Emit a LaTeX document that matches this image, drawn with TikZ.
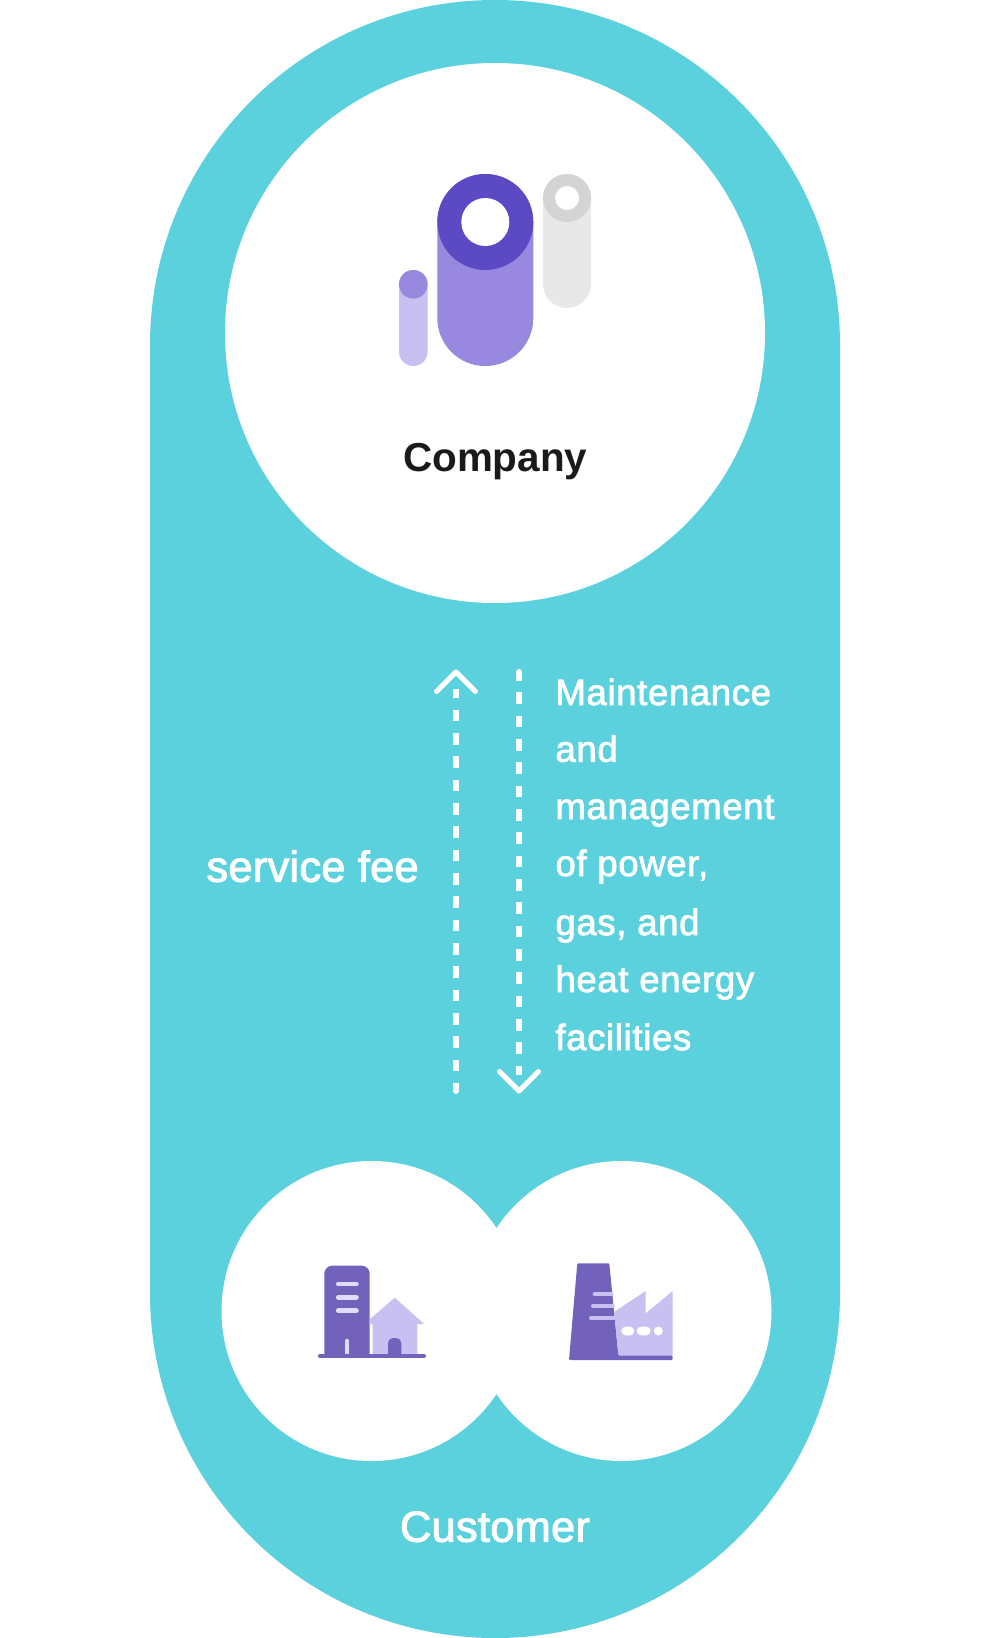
\documentclass[tikz,border=0pt]{standalone}
\usepackage{fontspec}
\setmainfont{Liberation Sans}
\newfontfamily\medfont[FakeBold=2.2,LetterSpace=1.8]{Liberation Sans}
\newfontfamily\medbig[FakeBold=2.2,LetterSpace=0.6]{Liberation Sans}
\definecolor{teal1}{HTML}{5BD1DE}
\definecolor{pdark}{HTML}{5B4AC3}
\definecolor{pmid}{HTML}{9888E0}
\definecolor{plight}{HTML}{C9C0F2}
\definecolor{gdark}{HTML}{D4D4D4}
\definecolor{glight}{HTML}{E8E8E8}
\definecolor{ink}{HTML}{1A1A1A}
\definecolor{icon}{HTML}{7262BC}
\definecolor{iconbar}{HTML}{E0DBF6}
\tikzset{
  lab/.style={anchor=base west,inner sep=0pt,outer sep=0pt,text=white,font=\medfont\fontsize{36.5}{38}\selectfont},
  bigl/.style={anchor=base west,inner sep=0pt,outer sep=0pt,text=white,font=\medbig\fontsize{43.4}{44}\selectfont},
  dashline/.style={draw=white,line width=6pt,dash pattern=on 11.7pt off 11.63pt},
  chev/.style={draw=white,line width=5pt,line cap=round,line join=round},
  bar/.style={draw=#1,line width=4.5pt,line cap=round},
}
\begin{document}
\begin{tikzpicture}[x=1pt,y=-1pt]
\useasboundingbox (0,0) rectangle (990,1638);
\fill[white] (0,0) rectangle (990,1638);
% pill
\fill[teal1,rounded corners=345pt] (150,0) rectangle (840,1638);
\node[circle,fill=white,minimum size=540pt,inner sep=0pt,outer sep=0pt] (comp) at (495,333) {};
\node[circle,fill=white,minimum size=300pt,inner sep=0pt,outer sep=0pt] (custA) at (371.5,1311) {};
\node[circle,fill=white,minimum size=300pt,inner sep=0pt,outer sep=0pt] (custB) at (621.5,1311) {};
% logo
\fill[plight,rounded corners=14.3pt] (399,270) rectangle (427.6,366);
\fill[pmid] (413.3,284.3) circle[radius=14.3];
\fill[glight,rounded corners=23.9pt] (543,174) rectangle (591,308);
\fill[gdark] (567,198) circle[radius=24];
\fill[white] (567,198) circle[radius=12];
\fill[pmid,rounded corners=47.9pt] (437.3,174) rectangle (533.3,366);
\fill[pdark] (485.3,222) circle[radius=48];
\fill[white] (485.3,222) circle[radius=24];
\node[anchor=base west,inner sep=0pt,text=ink,font=\bfseries\fontsize{40.4}{41}\selectfont] (ctitle) at (403,471.7) {Company};
% connectors
\coordinate (upS) at (456,1094);
\coordinate (upE) at (456,689.3);
\coordinate (upT) at (456,672);
\coordinate (dnS) at (519,669);
\coordinate (dnE) at (519,1075);
\coordinate (dnT) at (519,1091);
\draw[dashline,dash phase=3.7pt] ([yshift=3pt]upS) -- (upE);
\draw[draw=white,line width=6pt,line cap=round] ([yshift=3pt]upS) -- ([yshift=6pt]upS);
\draw[chev] (436.5,691.5) -- (upT) -- (475.5,691.5);
\draw[dashline,dash phase=3pt] ([yshift=-3pt]dnS) -- (dnE);
\draw[draw=white,line width=6pt,line cap=round] ([yshift=-3pt]dnS) -- ([yshift=-6pt]dnS);
\draw[chev] (499.5,1071.5) -- (dnT) -- (538.5,1071.5);
% labels
\node[bigl] (fee) at (206.5,881.7) {service fee};
\node[lab] (t1) at (555.5,705) {Maintenance};
\node[lab] (t2) at (555.5,761.7) {and};
\node[lab] (t3) at (555.5,819) {management};
\node[lab] (t4) at (555.5,876) {of power,};
\node[lab] (t5) at (555.5,935) {gas, and};
\node[lab] (t6) at (555.5,992) {heat energy};
\node[lab] (t7) at (555.5,1050) {facilities};
\node[bigl] (cust) at (400,1541.7) {Customer};
% building icon
\fill[icon] (324.3,1354) [rounded corners=8pt] -- (324.3,1265.7) -- (369.7,1265.7) [sharp corners] -- (369.7,1354) -- cycle;
\fill[plight] (369.7,1319.3) -- (394.7,1297.7) -- (424.3,1324) -- (417.3,1324) -- (417.3,1354) -- (372.7,1354) -- (372.7,1324) -- (369.7,1324) -- cycle;
\fill[icon] (388,1354) [rounded corners=5pt] -- (388,1338) -- (401.3,1338) [sharp corners] -- (401.3,1354) -- cycle;
\draw[bar=iconbar] (338.2,1284) -- (356.5,1284);
\draw[bar=iconbar] (338.2,1297.3) -- (356.5,1297.3);
\draw[bar=iconbar] (338.2,1310.7) -- (356.5,1310.7);
\draw[draw=iconbar,line width=4.5pt,line cap=round] (347,1341) -- (347,1354);
\draw[bar=icon] (320.2,1356) -- (423.8,1356);
% factory icon
\fill[plight] (614.3,1311.7) -- (645.7,1291) -- (645.7,1313.3) -- (672.7,1291) -- (672.7,1356) -- (618.3,1356) -- cycle;
\fill[icon,rounded corners=1pt] (577.3,1263.3) -- (609.3,1263.3) -- (618.3,1355.7) -- (672.7,1355.7) -- (672.7,1360) -- (569,1360) -- cycle;
\draw[draw=plight,line width=4pt,line cap=round] (594.7,1294.3) -- (611.5,1294.3);
\draw[draw=plight,line width=4pt,line cap=round] (593,1306.3) -- (612.7,1306.3);
\draw[draw=plight,line width=4pt,line cap=round] (591,1318) -- (614,1318);
\fill[white,rounded corners=4.3pt] (621.3,1326.7) rectangle (634.3,1335.3);
\fill[white,rounded corners=4.3pt] (636.7,1326.7) rectangle (650.7,1335.3);
\fill[white] (658.3,1331) circle[radius=4.5];
\end{tikzpicture}
\end{document}
